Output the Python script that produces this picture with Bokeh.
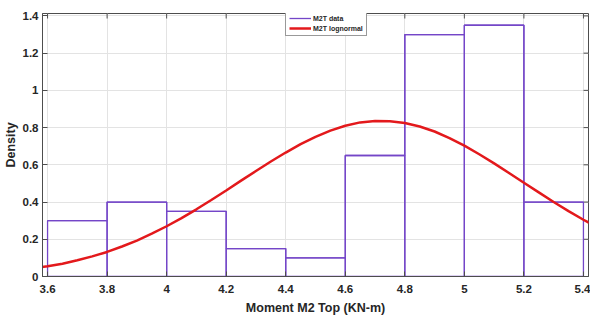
import math
from bokeh.plotting import figure
from bokeh.models import Range1d, Legend, LegendItem, FixedTicker, ColumnDataSource
from bokeh.embed import file_html
from bokeh.resources import INLINE

# Histogram (density) of M2T data
bin_left = [3.6, 3.8, 4.0, 4.2, 4.4, 4.6, 4.8, 5.0, 5.2]
bin_right = [3.8, 4.0, 4.2, 4.4, 4.6, 4.8, 5.0, 5.2, 5.4]
density = [0.30, 0.40, 0.35, 0.15, 0.10, 0.65, 1.30, 1.35, 0.40]

# Fitted lognormal curve
curve_x = [3.55, 3.60, 3.65, 3.70, 3.75, 3.80, 3.85, 3.90, 3.95, 4.00, 4.05, 4.10,
           4.15, 4.20, 4.25, 4.30, 4.35, 4.40, 4.45, 4.50, 4.55, 4.60, 4.65, 4.70,
           4.75, 4.80, 4.85, 4.90, 4.95, 5.00, 5.05, 5.10, 5.15, 5.20, 5.25, 5.30,
           5.35, 5.40, 5.45]
curve_y = [0.043, 0.055, 0.069, 0.087, 0.108, 0.132, 0.161, 0.193, 0.230, 0.270, 0.314, 0.361,
           0.411, 0.462, 0.515, 0.567, 0.618, 0.666, 0.711, 0.750, 0.784, 0.810, 0.828, 0.836,
           0.834, 0.825, 0.806, 0.779, 0.744, 0.703, 0.657, 0.608, 0.556, 0.504, 0.452, 0.400,
           0.351, 0.305, 0.261]

x_ticks = [3.6, 3.8, 4.0, 4.2, 4.4, 4.6, 4.8, 5.0, 5.2, 5.4]
x_tick_labels = ["3.6", "3.8", "4", "4.2", "4.4", "4.6", "4.8", "5", "5.2", "5.4"]
y_ticks = [0, 0.2, 0.4, 0.6, 0.8, 1.0, 1.2, 1.4]
y_tick_labels = ["0", "0.2", "0.4", "0.6", "0.8", "1", "1.2", "1.4"]

X_MIN, X_MAX = 3.583, 5.417
Y_MIN, Y_MAX = 0, 1.413

FONT = "Liberation Sans"
AX = "#4d4d4d"
TXT = "#262626"

p = figure(width=590, height=323, output_backend="svg", toolbar_location=None,
           x_range=Range1d(X_MIN, X_MAX), y_range=Range1d(Y_MIN, Y_MAX),
           min_border_left=40, min_border_right=2, min_border_top=13, min_border_bottom=47)
p.outline_line_color = AX
p.outline_line_width = 1
p.background_fill_color = "white"
p.border_fill_color = "white"

p.xaxis.ticker = FixedTicker(ticks=x_ticks)
p.yaxis.ticker = FixedTicker(ticks=y_ticks)
p.xaxis.major_label_overrides = {t: l for t, l in zip(x_ticks, x_tick_labels)}
p.yaxis.major_label_overrides = {t: l for t, l in zip(y_ticks, y_tick_labels)}
for ax in (p.xaxis[0], p.yaxis[0]):
    ax.major_tick_in = 5
    ax.major_tick_out = 0
    ax.minor_tick_in = 0
    ax.minor_tick_out = 0
    ax.axis_line_color = AX
    ax.major_tick_line_color = AX
    ax.major_label_text_font = FONT
    ax.major_label_text_font_style = "bold"
    ax.major_label_text_font_size = "11.5px"
    ax.major_label_text_color = TXT
    ax.axis_label_text_font = FONT
    ax.axis_label_text_font_style = "bold"
    ax.axis_label_text_font_size = "12.5px"
    ax.axis_label_text_color = TXT
p.xaxis.axis_label = "Moment M2 Top (KN-m)"
p.yaxis.axis_label = "Density"
p.xaxis.major_label_standoff = 8
p.xaxis.axis_label_standoff = 5
p.yaxis.major_label_standoff = 4
p.yaxis.axis_label_standoff = 2

# tick marks on the top and right edges of the box (clipped to the frame)
p.scatter(x=x_ticks, y=[Y_MAX] * len(x_ticks), marker="dash", size=10, angle=math.pi / 2,
          line_color=AX, line_width=1)
p.scatter(x=[X_MAX] * len(y_ticks), y=y_ticks, marker="dash", size=10,
          line_color=AX, line_width=1)

p.xgrid.grid_line_color = "#e3e3e3"
p.ygrid.grid_line_color = "#e3e3e3"
p.xgrid.ticker = FixedTicker(ticks=x_ticks)
p.ygrid.ticker = FixedTicker(ticks=y_ticks)

PURPLE = "#7446c8"
RED = "#e3191c"

hist_src = ColumnDataSource(dict(left=bin_left, right=bin_right, top=density, bottom=[0] * len(density)))
p.quad(left="left", right="right", top="top", bottom="bottom", source=hist_src,
       fill_alpha=0, line_color=PURPLE, line_width=1.3)
hist_outline = p.step(x=bin_left + [bin_right[-1]], y=density + [density[-1]], mode="after",
                      line_color=PURPLE, line_width=1.3)
curve = p.line(curve_x, curve_y, line_color=RED, line_width=2.5)

legend = Legend(items=[LegendItem(label="M2T data", renderers=[hist_outline]),
                       LegendItem(label="M2T lognormal", renderers=[curve])],
                location=(243, 240))
legend.label_text_font = FONT
legend.label_text_font_style = "bold"
legend.label_text_font_size = "7px"
legend.label_text_color = TXT
legend.glyph_width = 22
legend.glyph_height = 8
legend.label_height = 8
legend.label_standoff = 2
legend.spacing = 2
legend.padding = 3
legend.margin = 0
legend.border_line_color = "#333333"
legend.border_line_width = 1
legend.background_fill_alpha = 1
p.add_layout(legend, "center")

open("out.html", "w").write(file_html(p, INLINE))
